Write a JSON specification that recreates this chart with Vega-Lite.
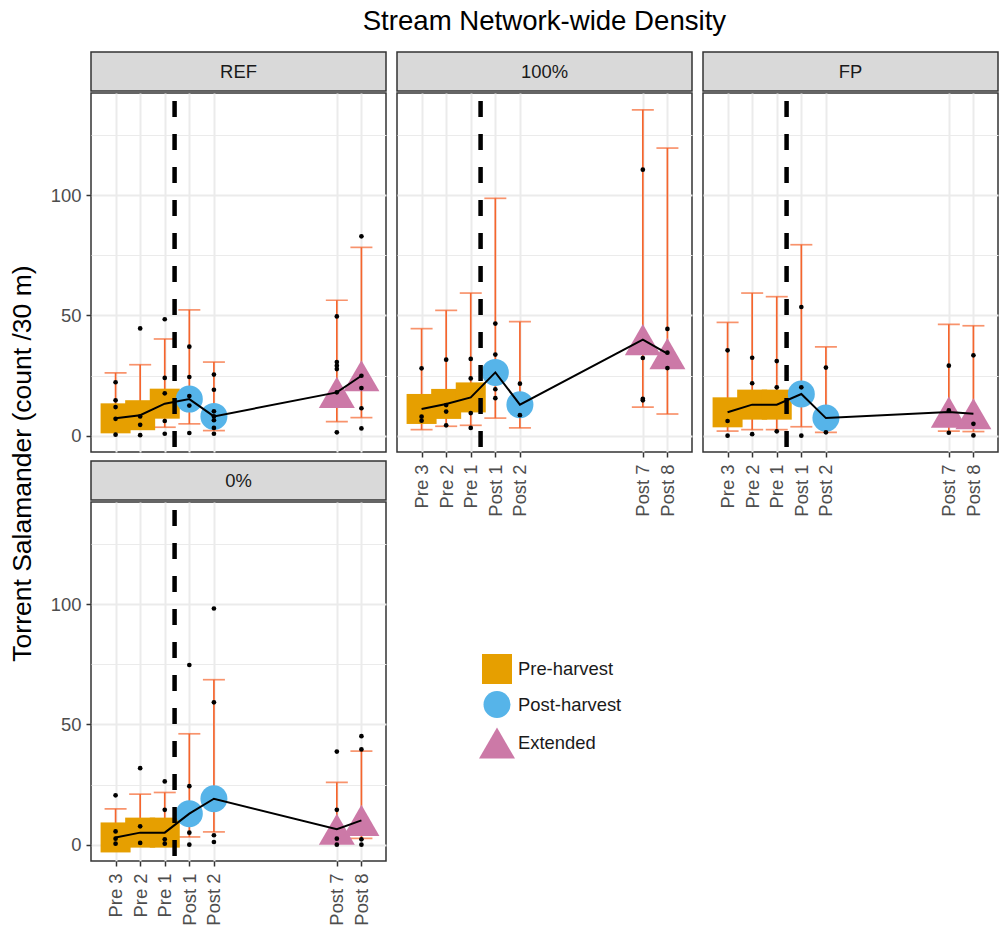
{
  "$schema": "https://vega.github.io/schema/vega-lite/v6.json",
  "padding": {"left": 10, "top": 7, "right": 0, "bottom": 0},
  "background": "white",
  "title": {"text": "Stream Network-wide Density", "fontSize": 27.6, "fontWeight": "normal", "color": "#000000", "anchor": "middle", "offset": 16, "dx": 40},
  "datasets": {
    "summary": [
      {"panel": "REF", "t": 1, "phase": "Pre-harvest", "mean": 7.2, "lo": 2.5, "hi": 26.1},
      {"panel": "REF", "t": 2, "phase": "Pre-harvest", "mean": 8.5, "lo": 2.8, "hi": 29.5},
      {"panel": "REF", "t": 3, "phase": "Pre-harvest", "mean": 13.3, "lo": 3.5, "hi": 40.2},
      {"panel": "REF", "t": 4, "phase": "Post-harvest", "mean": 15.2, "lo": 4.9, "hi": 52.3},
      {"panel": "REF", "t": 5, "phase": "Post-harvest", "mean": 8.0, "lo": 2.1, "hi": 30.6},
      {"panel": "REF", "t": 10, "phase": "Extended", "mean": 18.0, "lo": 5.8, "hi": 56.3},
      {"panel": "REF", "t": 11, "phase": "Extended", "mean": 24.9, "lo": 7.5, "hi": 78.3},
      {"panel": "100%", "t": 1, "phase": "Pre-harvest", "mean": 11.1, "lo": 2.5, "hi": 44.5},
      {"panel": "100%", "t": 2, "phase": "Pre-harvest", "mean": 13.2, "lo": 3.9, "hi": 52.1},
      {"panel": "100%", "t": 3, "phase": "Pre-harvest", "mean": 15.9, "lo": 4.3, "hi": 59.3},
      {"panel": "100%", "t": 4, "phase": "Post-harvest", "mean": 26.3, "lo": 7.3, "hi": 98.7},
      {"panel": "100%", "t": 5, "phase": "Post-harvest", "mean": 12.9, "lo": 3.2, "hi": 47.4},
      {"panel": "100%", "t": 10, "phase": "Extended", "mean": 39.9, "lo": 11.9, "hi": 135.5},
      {"panel": "100%", "t": 11, "phase": "Extended", "mean": 34.1, "lo": 9.0, "hi": 119.6},
      {"panel": "FP", "t": 1, "phase": "Pre-harvest", "mean": 9.7, "lo": 1.9, "hi": 47.1},
      {"panel": "FP", "t": 2, "phase": "Pre-harvest", "mean": 12.9, "lo": 2.5, "hi": 59.3},
      {"panel": "FP", "t": 3, "phase": "Pre-harvest", "mean": 12.9, "lo": 2.5, "hi": 57.8},
      {"panel": "FP", "t": 4, "phase": "Post-harvest", "mean": 17.3, "lo": 3.7, "hi": 79.4},
      {"panel": "FP", "t": 5, "phase": "Post-harvest", "mean": 7.3, "lo": 1.4, "hi": 36.9},
      {"panel": "FP", "t": 10, "phase": "Extended", "mean": 9.8, "lo": 1.9, "hi": 46.3},
      {"panel": "FP", "t": 11, "phase": "Extended", "mean": 9.1, "lo": 1.7, "hi": 45.7},
      {"panel": "0%", "t": 1, "phase": "Pre-harvest", "mean": 3.0, "lo": 0.5, "hi": 14.9},
      {"panel": "0%", "t": 2, "phase": "Pre-harvest", "mean": 5.0, "lo": 0.8, "hi": 21.0},
      {"panel": "0%", "t": 3, "phase": "Pre-harvest", "mean": 5.0, "lo": 0.8, "hi": 21.7},
      {"panel": "0%", "t": 4, "phase": "Post-harvest", "mean": 12.9, "lo": 3.2, "hi": 46.1},
      {"panel": "0%", "t": 5, "phase": "Post-harvest", "mean": 19.1, "lo": 5.3, "hi": 68.6},
      {"panel": "0%", "t": 10, "phase": "Extended", "mean": 6.4, "lo": 1.8, "hi": 25.9},
      {"panel": "0%", "t": 11, "phase": "Extended", "mean": 10.1, "lo": 2.6, "hi": 38.9}
    ],
    "raw": [
      {"panel": "REF", "t": 1, "count": 22.2}, {"panel": "REF", "t": 1, "count": 14.7}, {"panel": "REF", "t": 1, "count": 11.9}, {"panel": "REF", "t": 1, "count": 7.0}, {"panel": "REF", "t": 1, "count": 0.4},
      {"panel": "REF", "t": 2, "count": 44.6}, {"panel": "REF", "t": 2, "count": 8.0}, {"panel": "REF", "t": 2, "count": 4.5}, {"panel": "REF", "t": 2, "count": 0.2},
      {"panel": "REF", "t": 3, "count": 48.4}, {"panel": "REF", "t": 3, "count": 24.0}, {"panel": "REF", "t": 3, "count": 17.6}, {"panel": "REF", "t": 3, "count": 6.1}, {"panel": "REF", "t": 3, "count": 0.8},
      {"panel": "REF", "t": 4, "count": 37.0}, {"panel": "REF", "t": 4, "count": 24.4}, {"panel": "REF", "t": 4, "count": 16.5}, {"panel": "REF", "t": 4, "count": 12.5}, {"panel": "REF", "t": 4, "count": 1.1},
      {"panel": "REF", "t": 5, "count": 25.4}, {"panel": "REF", "t": 5, "count": 19.1}, {"panel": "REF", "t": 5, "count": 10.1}, {"panel": "REF", "t": 5, "count": 8.0}, {"panel": "REF", "t": 5, "count": 6.4}, {"panel": "REF", "t": 5, "count": 3.2}, {"panel": "REF", "t": 5, "count": 0.8},
      {"panel": "REF", "t": 10, "count": 49.6}, {"panel": "REF", "t": 10, "count": 30.6}, {"panel": "REF", "t": 10, "count": 29.1}, {"panel": "REF", "t": 10, "count": 27.7}, {"panel": "REF", "t": 10, "count": 18.0}, {"panel": "REF", "t": 10, "count": 1.4},
      {"panel": "REF", "t": 11, "count": 82.9}, {"panel": "REF", "t": 11, "count": 24.9}, {"panel": "REF", "t": 11, "count": 19.8}, {"panel": "REF", "t": 11, "count": 11.4}, {"panel": "REF", "t": 11, "count": 3.0},
      {"panel": "100%", "t": 1, "count": 28.0}, {"panel": "100%", "t": 1, "count": 7.9}, {"panel": "100%", "t": 1, "count": 6.2},
      {"panel": "100%", "t": 2, "count": 31.6}, {"panel": "100%", "t": 2, "count": 12.7}, {"panel": "100%", "t": 2, "count": 10.0}, {"panel": "100%", "t": 2, "count": 4.3},
      {"panel": "100%", "t": 3, "count": 31.9}, {"panel": "100%", "t": 3, "count": 23.8}, {"panel": "100%", "t": 3, "count": 9.4}, {"panel": "100%", "t": 3, "count": 3.2},
      {"panel": "100%", "t": 4, "count": 46.6}, {"panel": "100%", "t": 4, "count": 33.7}, {"panel": "100%", "t": 4, "count": 19.3}, {"panel": "100%", "t": 4, "count": 15.6},
      {"panel": "100%", "t": 5, "count": 21.6}, {"panel": "100%", "t": 5, "count": 8.5},
      {"panel": "100%", "t": 10, "count": 110.6}, {"panel": "100%", "t": 10, "count": 32.3}, {"panel": "100%", "t": 10, "count": 15.3}, {"panel": "100%", "t": 10, "count": 14.7},
      {"panel": "100%", "t": 11, "count": 44.4}, {"panel": "100%", "t": 11, "count": 34.5}, {"panel": "100%", "t": 11, "count": 28.1},
      {"panel": "FP", "t": 1, "count": 35.5}, {"panel": "FP", "t": 1, "count": 6.1}, {"panel": "FP", "t": 1, "count": 0.0},
      {"panel": "FP", "t": 2, "count": 32.4}, {"panel": "FP", "t": 2, "count": 21.8}, {"panel": "FP", "t": 2, "count": 0.6},
      {"panel": "FP", "t": 3, "count": 31.0}, {"panel": "FP", "t": 3, "count": 20.1}, {"panel": "FP", "t": 3, "count": 1.8},
      {"panel": "FP", "t": 4, "count": 53.5}, {"panel": "FP", "t": 4, "count": 20.1}, {"panel": "FP", "t": 4, "count": 0.0},
      {"panel": "FP", "t": 5, "count": 28.3}, {"panel": "FP", "t": 5, "count": 1.4},
      {"panel": "FP", "t": 10, "count": 29.1}, {"panel": "FP", "t": 10, "count": 10.5}, {"panel": "FP", "t": 10, "count": 1.2},
      {"panel": "FP", "t": 11, "count": 33.4}, {"panel": "FP", "t": 11, "count": 4.9}, {"panel": "FP", "t": 11, "count": 0.1},
      {"panel": "0%", "t": 1, "count": 20.5}, {"panel": "0%", "t": 1, "count": 5.5}, {"panel": "0%", "t": 1, "count": 2.5}, {"panel": "0%", "t": 1, "count": 0.4},
      {"panel": "0%", "t": 2, "count": 31.8}, {"panel": "0%", "t": 2, "count": 7.6}, {"panel": "0%", "t": 2, "count": 0.7},
      {"panel": "0%", "t": 3, "count": 26.3}, {"panel": "0%", "t": 3, "count": 14.5}, {"panel": "0%", "t": 3, "count": 2.2}, {"panel": "0%", "t": 3, "count": 0.4},
      {"panel": "0%", "t": 4, "count": 74.7}, {"panel": "0%", "t": 4, "count": 24.3}, {"panel": "0%", "t": 4, "count": 5.0}, {"panel": "0%", "t": 4, "count": 0.0},
      {"panel": "0%", "t": 5, "count": 98.2}, {"panel": "0%", "t": 5, "count": 59.2}, {"panel": "0%", "t": 5, "count": 3.9}, {"panel": "0%", "t": 5, "count": 1.1},
      {"panel": "0%", "t": 10, "count": 38.7}, {"panel": "0%", "t": 10, "count": 14.5}, {"panel": "0%", "t": 10, "count": 2.5}, {"panel": "0%", "t": 10, "count": 0.0},
      {"panel": "0%", "t": 11, "count": 45.1}, {"panel": "0%", "t": 11, "count": 39.6}, {"panel": "0%", "t": 11, "count": 2.2}, {"panel": "0%", "t": 11, "count": 0.0}
    ]
  },
  "hconcat": [
    {
      "title": {"text": "Torrent Salamander (count /30 m)", "orient": "left", "anchor": "middle", "fontSize": 26.5, "fontWeight": "normal", "color": "#000000", "offset": 13, "dx": 25},
      "spacing": 6,
      "vconcat": [
        {
          "spacing": 0,
          "vconcat": [
            {"width": 295, "height": 39, "data": {"values": [{"panel": "REF"}]}, "mark": {"type": "text", "fontSize": 18.4, "color": "#1A1A1A"}, "encoding": {"text": {"field": "panel"}}, "view": {"fill": "#D9D9D9", "stroke": "#333333", "strokeWidth": 1.5}},
            {
              "width": 295, "height": 359,
              "layer": [
                {"data": {"name": "summary"}, "transform": [{"filter": "datum.panel === 'REF'"}], "mark": {"type": "rule", "color": "#F5652D", "strokeWidth": 1.7},
                 "encoding": {
                   "x": {"field": "t", "type": "quantitative", "title": null, "scale": {"domain": [0, 12], "nice": false, "zero": false}, "axis": {"title": null, "values": [1, 2, 3, 4, 5, 10, 11], "labels": false, "ticks": false, "grid": true, "gridWidth": 2}},
                   "y": {"field": "lo", "type": "quantitative", "title": null, "scale": {"domain": [-6.8, 142.5], "nice": false, "zero": false}, "axis": {"title": null, "values": [0, 25, 50, 75, 100, 125], "labelExpr": "datum.value % 50 == 0 ? datum.label : ''", "labelOverlap": false, "grid": true, "gridWidth": {"condition": {"test": "datum.value % 50 == 0", "value": 2}, "value": 1}, "tickOpacity": {"condition": {"test": "datum.value % 50 == 0", "value": 1}, "value": 0}}},
                   "y2": {"field": "hi"}}},
                {"data": {"name": "summary"}, "transform": [{"filter": "datum.panel === 'REF'"}], "mark": {"type": "tick", "orient": "horizontal", "size": 22, "thickness": 1.7, "color": "#F5652D"},
                 "encoding": {"x": {"field": "t", "type": "quantitative", "title": null}, "y": {"field": "hi", "type": "quantitative", "title": null}}},
                {"data": {"name": "summary"}, "transform": [{"filter": "datum.panel === 'REF'"}], "mark": {"type": "tick", "orient": "horizontal", "size": 22, "thickness": 1.7, "color": "#F5652D"},
                 "encoding": {"x": {"field": "t", "type": "quantitative", "title": null}, "y": {"field": "lo", "type": "quantitative", "title": null}}},
                {"data": {"name": "summary"}, "transform": [{"filter": "datum.panel === 'REF'"}], "mark": {"type": "point", "filled": true, "opacity": 1, "strokeWidth": 0},
                 "encoding": {
                   "x": {"field": "t", "type": "quantitative", "title": null},
                   "y": {"field": "mean", "type": "quantitative", "title": null},
                   "color": {"field": "phase", "type": "nominal", "title": null, "scale": {"domain": ["Pre-harvest", "Post-harvest", "Extended"], "range": ["#E69F00", "#56B4E9", "#CC79A7"]}, "legend": {"orient": "none", "legendX": 388, "legendY": 602, "title": null, "labelFontSize": 18.4, "labelColor": "#1A1A1A", "symbolStrokeWidth": 0, "symbolOpacity": 1, "rowPadding": 7, "labelOffset": 3}},
                   "shape": {"field": "phase", "type": "nominal", "title": null, "scale": {"domain": ["Pre-harvest", "Post-harvest", "Extended"], "range": ["square", "circle", "triangle-up"]}},
                   "size": {"field": "phase", "type": "nominal", "title": null, "scale": {"type": "ordinal", "domain": ["Pre-harvest", "Post-harvest", "Extended"], "range": [900, 729, 1296]}}}},
                {"data": {"values": [{}]}, "mark": {"type": "rule", "color": "#000000", "strokeWidth": 4.5, "strokeDash": [16, 17]}, "encoding": {"x": {"datum": 3.4, "type": "quantitative"}, "y": {"datum": 139.2, "type": "quantitative"}, "y2": {"datum": -6.0}}},
                {"data": {"name": "summary"}, "transform": [{"filter": "datum.panel === 'REF'"}], "mark": {"type": "line", "color": "#000000", "strokeWidth": 2},
                 "encoding": {"x": {"field": "t", "type": "quantitative", "title": null}, "y": {"field": "mean", "type": "quantitative", "title": null}}},
                {"data": {"name": "raw"}, "transform": [{"filter": "datum.panel === 'REF'"}], "mark": {"type": "point", "filled": true, "shape": "circle", "size": 22, "color": "#000000", "opacity": 1},
                 "encoding": {"x": {"field": "t", "type": "quantitative", "title": null}, "y": {"field": "count", "type": "quantitative", "title": null}}}
              ]
            }
          ]
        },
        {
          "spacing": 0,
          "vconcat": [
            {"width": 295, "height": 39, "data": {"values": [{"panel": "0%"}]}, "mark": {"type": "text", "fontSize": 18.4, "color": "#1A1A1A"}, "encoding": {"text": {"field": "panel"}}, "view": {"fill": "#D9D9D9", "stroke": "#333333", "strokeWidth": 1.5}},
            {
              "width": 295, "height": 359,
              "layer": [
                {"data": {"name": "summary"}, "transform": [{"filter": "datum.panel === '0%'"}], "mark": {"type": "rule", "color": "#F5652D", "strokeWidth": 1.7},
                 "encoding": {
                   "x": {"field": "t", "type": "quantitative", "title": null, "scale": {"domain": [0, 12], "nice": false, "zero": false}, "axis": {"title": null, "values": [1, 2, 3, 4, 5, 10, 11], "labelExpr": "{'1': 'Pre 3', '2': 'Pre 2', '3': 'Pre 1', '4': 'Post 1', '5': 'Post 2', '10': 'Post 7', '11': 'Post 8'}[datum.label]", "labelAngle": 270, "labelOverlap": false, "labelFlush": false, "labelBound": false, "labelPadding": 7, "grid": true, "gridWidth": 2}},
                   "y": {"field": "lo", "type": "quantitative", "title": null, "scale": {"domain": [-6.8, 142.5], "nice": false, "zero": false}, "axis": {"title": null, "values": [0, 25, 50, 75, 100, 125], "labelExpr": "datum.value % 50 == 0 ? datum.label : ''", "labelOverlap": false, "grid": true, "gridWidth": {"condition": {"test": "datum.value % 50 == 0", "value": 2}, "value": 1}, "tickOpacity": {"condition": {"test": "datum.value % 50 == 0", "value": 1}, "value": 0}}},
                   "y2": {"field": "hi"}}},
                {"data": {"name": "summary"}, "transform": [{"filter": "datum.panel === '0%'"}], "mark": {"type": "tick", "orient": "horizontal", "size": 22, "thickness": 1.7, "color": "#F5652D"},
                 "encoding": {"x": {"field": "t", "type": "quantitative", "title": null}, "y": {"field": "hi", "type": "quantitative", "title": null}}},
                {"data": {"name": "summary"}, "transform": [{"filter": "datum.panel === '0%'"}], "mark": {"type": "tick", "orient": "horizontal", "size": 22, "thickness": 1.7, "color": "#F5652D"},
                 "encoding": {"x": {"field": "t", "type": "quantitative", "title": null}, "y": {"field": "lo", "type": "quantitative", "title": null}}},
                {"data": {"name": "summary"}, "transform": [{"filter": "datum.panel === '0%'"}], "mark": {"type": "point", "filled": true, "opacity": 1, "strokeWidth": 0},
                 "encoding": {
                   "x": {"field": "t", "type": "quantitative", "title": null},
                   "y": {"field": "mean", "type": "quantitative", "title": null},
                   "color": {"field": "phase", "type": "nominal", "title": null, "scale": {"domain": ["Pre-harvest", "Post-harvest", "Extended"], "range": ["#E69F00", "#56B4E9", "#CC79A7"]}},
                   "shape": {"field": "phase", "type": "nominal", "title": null, "scale": {"domain": ["Pre-harvest", "Post-harvest", "Extended"], "range": ["square", "circle", "triangle-up"]}},
                   "size": {"field": "phase", "type": "nominal", "title": null, "scale": {"type": "ordinal", "domain": ["Pre-harvest", "Post-harvest", "Extended"], "range": [900, 729, 1296]}}}},
                {"data": {"values": [{}]}, "mark": {"type": "rule", "color": "#000000", "strokeWidth": 4.5, "strokeDash": [16, 17]}, "encoding": {"x": {"datum": 3.4, "type": "quantitative"}, "y": {"datum": 139.2, "type": "quantitative"}, "y2": {"datum": -6.0}}},
                {"data": {"name": "summary"}, "transform": [{"filter": "datum.panel === '0%'"}], "mark": {"type": "line", "color": "#000000", "strokeWidth": 2},
                 "encoding": {"x": {"field": "t", "type": "quantitative", "title": null}, "y": {"field": "mean", "type": "quantitative", "title": null}}},
                {"data": {"name": "raw"}, "transform": [{"filter": "datum.panel === '0%'"}], "mark": {"type": "point", "filled": true, "shape": "circle", "size": 22, "color": "#000000", "opacity": 1},
                 "encoding": {"x": {"field": "t", "type": "quantitative", "title": null}, "y": {"field": "count", "type": "quantitative", "title": null}}}
              ]
            }
          ]
        }
      ]
    },
    {
      "spacing": 0,
      "vconcat": [
        {"width": 295, "height": 39, "data": {"values": [{"panel": "100%"}]}, "mark": {"type": "text", "fontSize": 18.4, "color": "#1A1A1A"}, "encoding": {"text": {"field": "panel"}}, "view": {"fill": "#D9D9D9", "stroke": "#333333", "strokeWidth": 1.5}},
        {
          "width": 295, "height": 359,
          "layer": [
            {"data": {"name": "summary"}, "transform": [{"filter": "datum.panel === '100%'"}], "mark": {"type": "rule", "color": "#F5652D", "strokeWidth": 1.7},
             "encoding": {
               "x": {"field": "t", "type": "quantitative", "title": null, "scale": {"domain": [0, 12], "nice": false, "zero": false}, "axis": {"title": null, "values": [1, 2, 3, 4, 5, 10, 11], "labelExpr": "{'1': 'Pre 3', '2': 'Pre 2', '3': 'Pre 1', '4': 'Post 1', '5': 'Post 2', '10': 'Post 7', '11': 'Post 8'}[datum.label]", "labelAngle": 270, "labelOverlap": false, "labelFlush": false, "labelBound": false, "labelPadding": 7, "grid": true, "gridWidth": 2}},
               "y": {"field": "lo", "type": "quantitative", "title": null, "scale": {"domain": [-6.8, 142.5], "nice": false, "zero": false}, "axis": {"title": null, "values": [0, 25, 50, 75, 100, 125], "labels": false, "ticks": false, "grid": true, "gridWidth": {"condition": {"test": "datum.value % 50 == 0", "value": 2}, "value": 1}}},
               "y2": {"field": "hi"}}},
            {"data": {"name": "summary"}, "transform": [{"filter": "datum.panel === '100%'"}], "mark": {"type": "tick", "orient": "horizontal", "size": 22, "thickness": 1.7, "color": "#F5652D"},
             "encoding": {"x": {"field": "t", "type": "quantitative", "title": null}, "y": {"field": "hi", "type": "quantitative", "title": null}}},
            {"data": {"name": "summary"}, "transform": [{"filter": "datum.panel === '100%'"}], "mark": {"type": "tick", "orient": "horizontal", "size": 22, "thickness": 1.7, "color": "#F5652D"},
             "encoding": {"x": {"field": "t", "type": "quantitative", "title": null}, "y": {"field": "lo", "type": "quantitative", "title": null}}},
            {"data": {"name": "summary"}, "transform": [{"filter": "datum.panel === '100%'"}], "mark": {"type": "point", "filled": true, "opacity": 1, "strokeWidth": 0},
             "encoding": {
               "x": {"field": "t", "type": "quantitative", "title": null},
               "y": {"field": "mean", "type": "quantitative", "title": null},
               "color": {"field": "phase", "type": "nominal", "title": null, "scale": {"domain": ["Pre-harvest", "Post-harvest", "Extended"], "range": ["#E69F00", "#56B4E9", "#CC79A7"]}},
               "shape": {"field": "phase", "type": "nominal", "title": null, "scale": {"domain": ["Pre-harvest", "Post-harvest", "Extended"], "range": ["square", "circle", "triangle-up"]}},
               "size": {"field": "phase", "type": "nominal", "title": null, "scale": {"type": "ordinal", "domain": ["Pre-harvest", "Post-harvest", "Extended"], "range": [900, 729, 1296]}}}},
            {"data": {"values": [{}]}, "mark": {"type": "rule", "color": "#000000", "strokeWidth": 4.5, "strokeDash": [16, 17]}, "encoding": {"x": {"datum": 3.4, "type": "quantitative"}, "y": {"datum": 139.2, "type": "quantitative"}, "y2": {"datum": -6.0}}},
            {"data": {"name": "summary"}, "transform": [{"filter": "datum.panel === '100%'"}], "mark": {"type": "line", "color": "#000000", "strokeWidth": 2},
             "encoding": {"x": {"field": "t", "type": "quantitative", "title": null}, "y": {"field": "mean", "type": "quantitative", "title": null}}},
            {"data": {"name": "raw"}, "transform": [{"filter": "datum.panel === '100%'"}], "mark": {"type": "point", "filled": true, "shape": "circle", "size": 22, "color": "#000000", "opacity": 1},
             "encoding": {"x": {"field": "t", "type": "quantitative", "title": null}, "y": {"field": "count", "type": "quantitative", "title": null}}}
          ]
        }
      ]
    },
    {
      "spacing": 0,
      "vconcat": [
        {"width": 295, "height": 39, "data": {"values": [{"panel": "FP"}]}, "mark": {"type": "text", "fontSize": 18.4, "color": "#1A1A1A"}, "encoding": {"text": {"field": "panel"}}, "view": {"fill": "#D9D9D9", "stroke": "#333333", "strokeWidth": 1.5}},
        {
          "width": 295, "height": 359,
          "layer": [
            {"data": {"name": "summary"}, "transform": [{"filter": "datum.panel === 'FP'"}], "mark": {"type": "rule", "color": "#F5652D", "strokeWidth": 1.7},
             "encoding": {
               "x": {"field": "t", "type": "quantitative", "title": null, "scale": {"domain": [0, 12], "nice": false, "zero": false}, "axis": {"title": null, "values": [1, 2, 3, 4, 5, 10, 11], "labelExpr": "{'1': 'Pre 3', '2': 'Pre 2', '3': 'Pre 1', '4': 'Post 1', '5': 'Post 2', '10': 'Post 7', '11': 'Post 8'}[datum.label]", "labelAngle": 270, "labelOverlap": false, "labelFlush": false, "labelBound": false, "labelPadding": 7, "grid": true, "gridWidth": 2}},
               "y": {"field": "lo", "type": "quantitative", "title": null, "scale": {"domain": [-6.8, 142.5], "nice": false, "zero": false}, "axis": {"title": null, "values": [0, 25, 50, 75, 100, 125], "labels": false, "ticks": false, "grid": true, "gridWidth": {"condition": {"test": "datum.value % 50 == 0", "value": 2}, "value": 1}}},
               "y2": {"field": "hi"}}},
            {"data": {"name": "summary"}, "transform": [{"filter": "datum.panel === 'FP'"}], "mark": {"type": "tick", "orient": "horizontal", "size": 22, "thickness": 1.7, "color": "#F5652D"},
             "encoding": {"x": {"field": "t", "type": "quantitative", "title": null}, "y": {"field": "hi", "type": "quantitative", "title": null}}},
            {"data": {"name": "summary"}, "transform": [{"filter": "datum.panel === 'FP'"}], "mark": {"type": "tick", "orient": "horizontal", "size": 22, "thickness": 1.7, "color": "#F5652D"},
             "encoding": {"x": {"field": "t", "type": "quantitative", "title": null}, "y": {"field": "lo", "type": "quantitative", "title": null}}},
            {"data": {"name": "summary"}, "transform": [{"filter": "datum.panel === 'FP'"}], "mark": {"type": "point", "filled": true, "opacity": 1, "strokeWidth": 0},
             "encoding": {
               "x": {"field": "t", "type": "quantitative", "title": null},
               "y": {"field": "mean", "type": "quantitative", "title": null},
               "color": {"field": "phase", "type": "nominal", "title": null, "scale": {"domain": ["Pre-harvest", "Post-harvest", "Extended"], "range": ["#E69F00", "#56B4E9", "#CC79A7"]}},
               "shape": {"field": "phase", "type": "nominal", "title": null, "scale": {"domain": ["Pre-harvest", "Post-harvest", "Extended"], "range": ["square", "circle", "triangle-up"]}},
               "size": {"field": "phase", "type": "nominal", "title": null, "scale": {"type": "ordinal", "domain": ["Pre-harvest", "Post-harvest", "Extended"], "range": [900, 729, 1296]}}}},
            {"data": {"values": [{}]}, "mark": {"type": "rule", "color": "#000000", "strokeWidth": 4.5, "strokeDash": [16, 17]}, "encoding": {"x": {"datum": 3.4, "type": "quantitative"}, "y": {"datum": 139.2, "type": "quantitative"}, "y2": {"datum": -6.0}}},
            {"data": {"name": "summary"}, "transform": [{"filter": "datum.panel === 'FP'"}], "mark": {"type": "line", "color": "#000000", "strokeWidth": 2},
             "encoding": {"x": {"field": "t", "type": "quantitative", "title": null}, "y": {"field": "mean", "type": "quantitative", "title": null}}},
            {"data": {"name": "raw"}, "transform": [{"filter": "datum.panel === 'FP'"}], "mark": {"type": "point", "filled": true, "shape": "circle", "size": 22, "color": "#000000", "opacity": 1},
             "encoding": {"x": {"field": "t", "type": "quantitative", "title": null}, "y": {"field": "count", "type": "quantitative", "title": null}}}
          ]
        }
      ]
    }
  ],
  "spacing": 9,
  "config": {
    "font": "Liberation Sans",
    "view": {"stroke": "#333333", "strokeWidth": 1.5},
    "axis": {"domain": false, "gridColor": "#EBEBEB", "tickColor": "#333333", "tickWidth": 1.5, "tickSize": 5, "labelFontSize": 18.4, "labelColor": "#4D4D4D", "labelPadding": 5, "labelFont": "Liberation Sans"},
    "legend": {"labelFont": "Liberation Sans"},
    "title": {"font": "Liberation Sans"}
  }
}
